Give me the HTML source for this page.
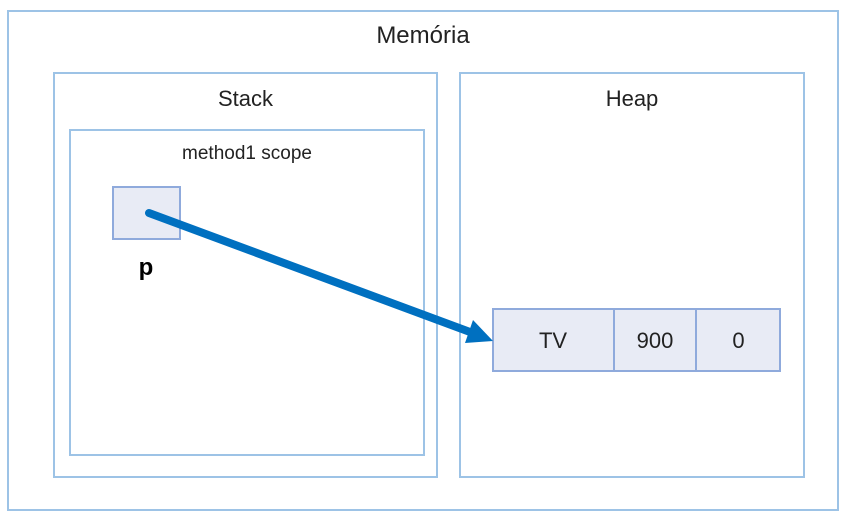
<!DOCTYPE html>
<html><head><style>
body{margin:0;width:855px;height:517px;background:#fff;font-family:"Liberation Sans",sans-serif;position:relative;overflow:hidden}
.b{position:absolute;border:2px solid #9dc3e6;box-sizing:border-box}
.t{position:absolute;color:#222;text-align:center}
</style></head><body>
<div class="b" style="left:7px;top:10px;width:832px;height:501px"></div>
<div class="t" style="left:7px;width:832px;top:22px;font-size:24px">Memória</div>
<div class="b" style="left:53px;top:72px;width:385px;height:406px"></div>
<div class="t" style="left:53px;width:385px;top:86px;font-size:22px">Stack</div>
<div class="b" style="left:459px;top:72px;width:346px;height:406px"></div>
<div class="t" style="left:459px;width:346px;top:86px;font-size:22px">Heap</div>
<div class="b" style="left:69px;top:129px;width:356px;height:327px"></div>
<div class="t" style="left:69px;width:356px;top:143px;font-size:19px">method1 scope</div>
<div style="position:absolute;left:112px;top:186px;width:69px;height:54px;box-sizing:border-box;border:2px solid #8faadc;background:#e8ebf5"></div>
<div class="t" style="left:128px;width:36px;top:254px;font-size:24px;font-weight:bold;color:#000">p</div>
<div style="position:absolute;left:492px;top:308px;width:289px;height:64px;box-sizing:border-box;border:2px solid #8faadc;background:#e8ebf5"></div>
<div style="position:absolute;left:613px;top:308px;width:2px;height:64px;background:#8faadc"></div>
<div style="position:absolute;left:695px;top:308px;width:2px;height:64px;background:#8faadc"></div>
<div class="t" style="left:492px;width:122px;top:328px;font-size:22px">TV</div>
<div class="t" style="left:614px;width:82px;top:328px;font-size:22px">900</div>
<div class="t" style="left:696px;width:85px;top:328px;font-size:22px">0</div>
<svg width="855" height="517" style="position:absolute;left:0;top:0">
<line x1="149" y1="213" x2="470" y2="332" stroke="#0070c0" stroke-width="8" stroke-linecap="round"/>
<polygon points="493,341 465,343 473,320" fill="#0070c0"/>
</svg>
</body></html>
